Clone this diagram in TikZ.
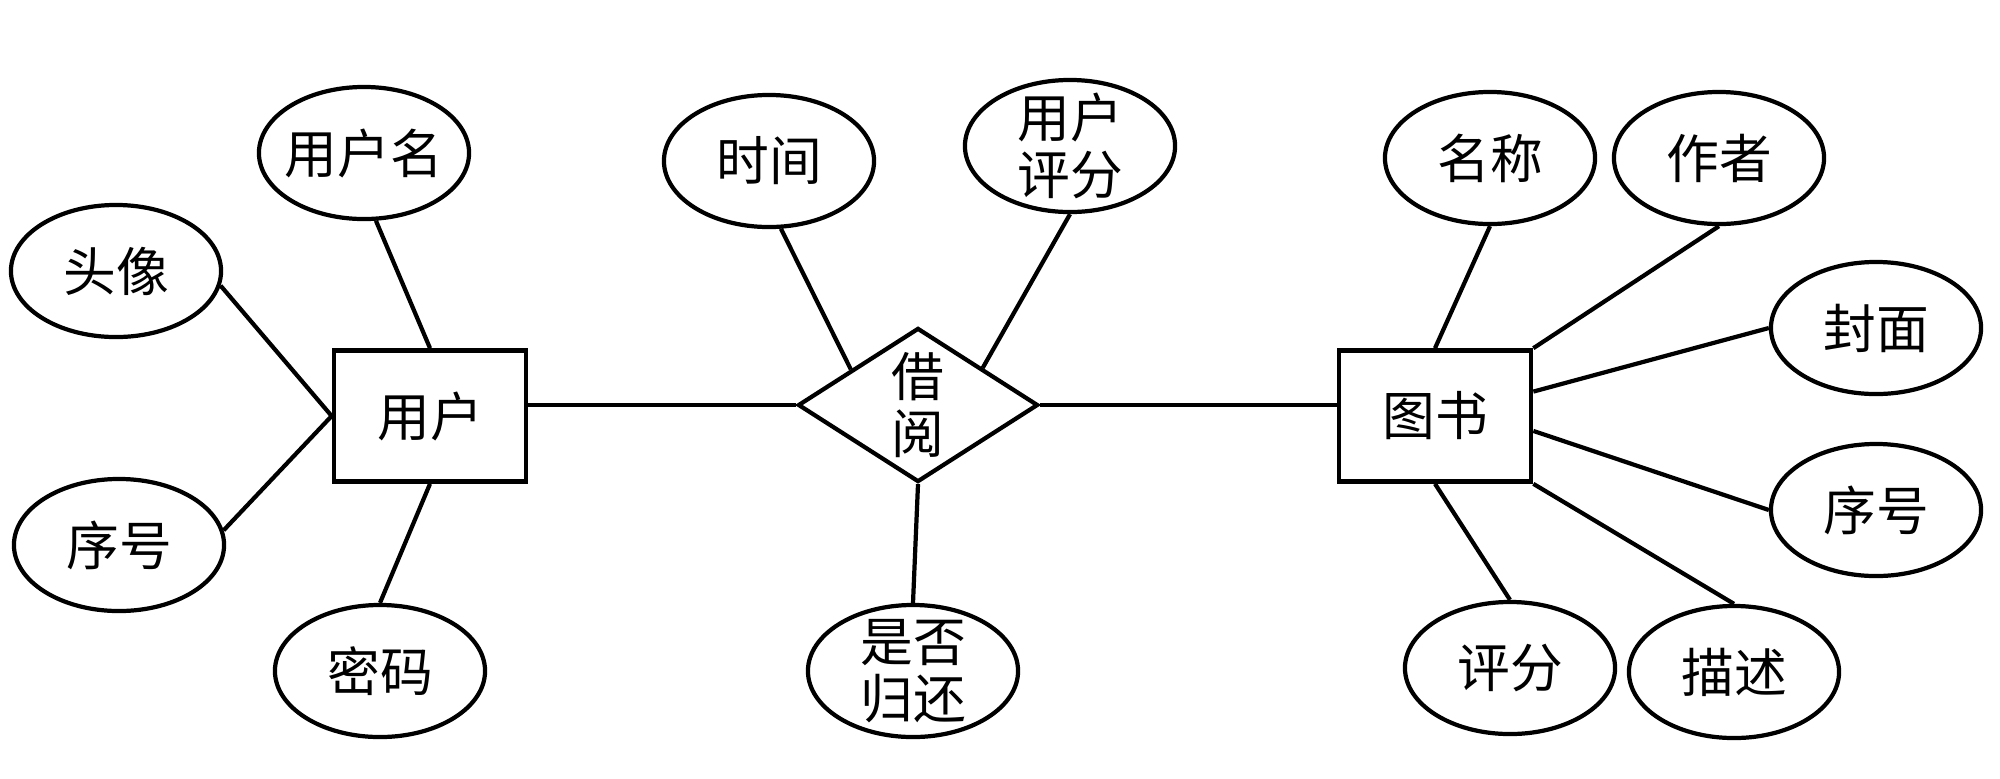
\documentclass[tikz,border=0pt]{standalone}
\usepackage{fontspec}
\setmainfont{Noto Sans CJK SC}
\usetikzlibrary{shapes.geometric,calc}
\tikzset{
  attr/.style={draw, ellipse, line width=1.2pt, minimum width=2.1cm, minimum height=1.32cm, inner sep=-3pt, align=center},
  entity/.style={draw, rectangle, line width=1.3pt, minimum width=1.92cm, minimum height=1.31cm, inner sep=0pt},
  rel/.style={draw, diamond, line width=1.2pt, aspect=1.55, minimum width=2.4cm, minimum height=1.54cm, inner sep=0pt, align=center},
  link/.style={line width=1.2pt}
}
\begin{document}
\begin{tikzpicture}[x=0.01cm,y=-0.01cm,font=\fontsize{15}{16}\selectfont]
\useasboundingbox[fill=white] (0,0) rectangle (2000,778);
% entities and relation
\node[entity] (user) at (430,416) {用户};
\node[entity] (book) at (1435,416) {图书};
\node[rel] (borrow) at (918,405) {借\\阅};
% user attributes
\node[attr] (uname) at (364,153) {用户名};
\node[attr] (avatar) at (116,271) {头像};
\node[attr] (num1) at (119,545) {序号};
\node[attr] (pwd) at (380,671) {密码};
% relation attributes
\node[attr] (time) at (769,161) {时间};
\node[attr] (urate) at (1070,146) {用户\\评分};
\node[attr] (ret) at (913,671) {是否\\归还};
% book attributes
\node[attr] (name) at (1490,158) {名称};
\node[attr] (author) at (1719,158) {作者};
\node[attr] (cover) at (1876,328) {封面};
\node[attr] (num2) at (1876,510) {序号};
\node[attr] (rate) at (1510,668) {评分};
\node[attr] (desc) at (1734,672) {描述};
% connectors
\draw[link] (user.north) -- (uname.-80);
\draw[link] (user.west) -- (avatar.-8);
\draw[link] (user.west) -- (num1.8);
\draw[link] (user.south) -- (pwd.north);
\draw[link] (borrow.west) -- (borrow.west -| user.east);
\draw[link] (borrow.east) -- (borrow.east -| book.west);
\draw[link] (time.-80) -- ($(borrow.west)!0.45!(borrow.north)$);
\draw[link] (urate.south) -- ($(borrow.north)!0.53!(borrow.east)$);
\draw[link] (borrow.south) -- (ret.north);
\draw[link] (book.north) -- (name.south);
\draw[link] (book.north east) -- (author.south);
\draw[link] ($(book.north east)!0.32!(book.south east)$) -- (cover.west);
\draw[link] ($(book.north east)!0.61!(book.south east)$) -- (num2.west);
\draw[link] (book.south) -- (rate.north);
\draw[link] (book.south east) -- (desc.north);
\end{tikzpicture}
\end{document}
